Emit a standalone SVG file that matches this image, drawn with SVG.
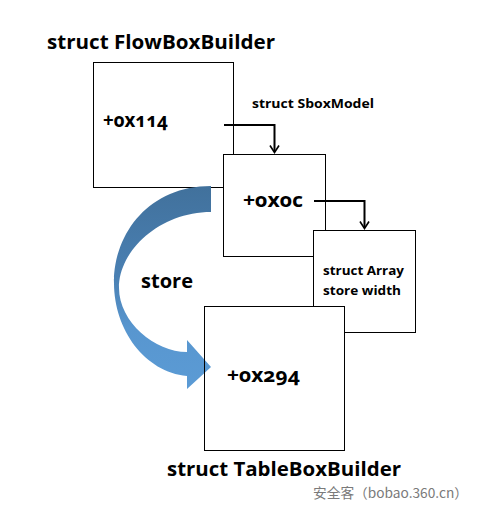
<svg xmlns="http://www.w3.org/2000/svg" width="483" height="511" viewBox="0 0 483 511">
<style>
.box{fill:#fff;stroke:#000;stroke-width:1}
.bg{fill:#fff}
.ol{fill:none;stroke:#000;stroke-width:1}
.t{font-family:"Open Sans","Noto Sans","Liberation Sans",sans-serif;font-weight:bold;fill:#000}
.hex{font-family:"Noto Sans","Open Sans","Liberation Sans",sans-serif;font-variant-numeric:oldstyle-nums;font-feature-settings:"onum" 1}
.big{font-size:19px}
.mid{font-size:19px}
.sm{font-size:12px}
.wire{fill:none;stroke:#000;stroke-width:2}
.head{fill:none;stroke:#000;stroke-width:1.6}
.wm{font-family:"Noto Sans CJK SC","Liberation Sans",sans-serif;font-size:13.5px;fill:#7a7a7a;stroke:#fff;stroke-width:0.6;paint-order:stroke}
</style>
<defs>
<linearGradient id="blue" gradientUnits="userSpaceOnUse" x1="0" y1="186" x2="0" y2="389">
<stop offset="0" stop-color="#41719c"/>
<stop offset="0.45" stop-color="#4a80b3"/>
<stop offset="0.7" stop-color="#5896cf"/>
<stop offset="1" stop-color="#5b9bd5"/>
</linearGradient>
</defs>
<text class="t big" x="47" y="49" textLength="228" lengthAdjust="spacingAndGlyphs">struct FlowBoxBuilder</text>
<g id="flowbox">
<rect class="box" x="93.5" y="62.5" width="140" height="125"/>
<text class="t hex mid" x="103" y="127" textLength="65" lengthAdjust="spacingAndGlyphs">+0x114</text>
</g>
<g id="sboxmodel">
<rect class="box" x="223.5" y="154.5" width="102" height="102"/>
<text class="t hex mid" x="243" y="207" textLength="60" lengthAdjust="spacingAndGlyphs">+0x0c</text>
</g>
<text class="t sm" x="252" y="107.5" textLength="122" lengthAdjust="spacingAndGlyphs">struct SboxModel</text>
<g id="array">
<rect class="box" x="313.5" y="230.5" width="102" height="102"/>
<text class="t sm" x="323" y="275" textLength="81" lengthAdjust="spacingAndGlyphs">struct Array</text>
<text class="t sm" x="323" y="294.5" textLength="78" lengthAdjust="spacingAndGlyphs">store width</text>
</g>
<g id="tablebox-bg">
<rect class="bg" x="204.5" y="306.5" width="140" height="144"/>
</g>
<g id="connectors">
<path class="wire" d="M224,125 H274.5 V152"/>
<path class="head" d="M270,145.5 L274.5,152.5 L279,145.5"/>
<path class="wire" d="M314,201 H364.5 V228"/>
<path class="head" d="M360,221.5 L364.5,228.5 L369,221.5"/>
<path fill="url(#blue)" d="M211,186 C150,186 114,232 114,283 C114,330 145,372 187,376 L187,389 L211,367 L187,340 L187,352 C155,352 119,322 119,288 C119,250 160,212 211,212 Z"/>
</g>
<text class="t big" x="141" y="287.5" textLength="52" lengthAdjust="spacingAndGlyphs">store</text>
<g id="tablebox">
<rect class="ol" x="204.5" y="306.5" width="140" height="144"/>
<text class="t hex mid" x="227" y="382" textLength="73" lengthAdjust="spacingAndGlyphs">+0x294</text>
</g>
<text class="t big" x="167" y="476" textLength="234" lengthAdjust="spacingAndGlyphs">struct TableBoxBuilder</text>
<text class="wm" x="313" y="498" textLength="155" lengthAdjust="spacingAndGlyphs">安全客（bobao.360.cn）</text>
</svg>
